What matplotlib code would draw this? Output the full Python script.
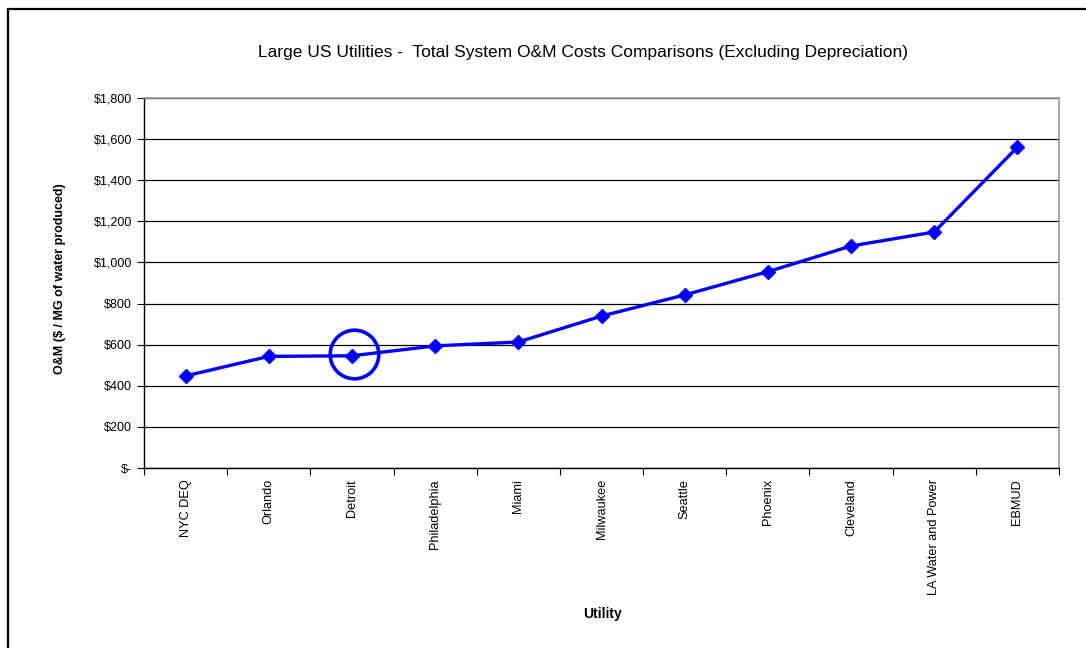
import matplotlib.pyplot as plt
from matplotlib.patches import Rectangle
from matplotlib.ticker import FuncFormatter, FixedLocator

plt.rcParams['font.family'] = ['Liberation Sans', 'DejaVu Sans']

utilities = ["NYC DEQ", "Orlando", "Detroit", "Philadelphia", "Miami", "Milwaukee",
             "Seattle", "Phoenix", "Cleveland", "LA Water and Power", "EBMUD"]
om_cost = [448, 543, 546, 594, 613, 739, 842, 955, 1080, 1148, 1561]
highlight = "Detroit"

fig = plt.figure(figsize=(10.86, 6.48), dpi=100)
ax = fig.add_axes([144 / 1086, 1 - 468 / 648, 915 / 1086, 370 / 648])

# outer chart frame (only left and top edges visible in the crop)
fig.add_artist(Rectangle((8 / 1086, -0.1), 1.2, 1 - 9 / 648 + 0.1, transform=fig.transFigure,
                         fill=False, edgecolor="black", lw=1.6))

x = list(range(len(utilities)))
ax.plot(x, om_cost, color="#0000ff", lw=2.4, marker="D", markersize=7.5, zorder=3, clip_on=False)

hi = utilities.index(highlight)
ax.plot([hi + 0.03], [om_cost[hi] + 8], marker="o", markersize=35, mfc="none", mec="#0000ff",
        mew=2.6, zorder=4, clip_on=False)

ax.set_xlim(-0.5, len(utilities) - 0.5)
ax.set_ylim(0, 1800)
ax.set_yticks(range(0, 1801, 200))
ax.yaxis.set_major_formatter(FuncFormatter(lambda v, p: "$-" if v == 0 else f"${v:,.0f}"))
ax.grid(axis="y", color="black", lw=0.9)
ax.set_axisbelow(True)

ax.xaxis.set_major_locator(FixedLocator([i - 0.5 for i in range(len(utilities) + 1)]))
ax.xaxis.set_minor_locator(FixedLocator(x))
ax.set_xticklabels([])
ax.set_xticklabels(utilities, minor=True, rotation=90, va="top", ha="center", fontsize=9.2)
ax.tick_params(axis="x", which="major", length=5, direction="out", color="black")
ax.tick_params(axis="x", which="minor", length=0, pad=8)
ax.tick_params(axis="y", length=5, labelsize=9, color="black")

for side in ["top", "right"]:
    ax.spines[side].set_color("#999999")
    ax.spines[side].set_linewidth(1.2)
for side in ["left", "bottom"]:
    ax.spines[side].set_color("black")
    ax.spines[side].set_linewidth(1.0)

fig.text(583 / 1086, 1 - 53 / 648, "Large US Utilities -  Total System O&M Costs Comparisons (Excluding Depreciation)",
         ha="center", va="center", fontsize=12.5)
fig.text(60 / 1086, 1 - 279 / 648, "O&M ($ / MG of water produced)", rotation=90,
         ha="center", va="center", fontsize=9, fontweight="bold")
fig.text(602 / 1086, 1 - 614 / 648, "Utility", ha="center", va="center", fontsize=10, fontweight="bold")

fig.savefig("out.png", dpi=100)
